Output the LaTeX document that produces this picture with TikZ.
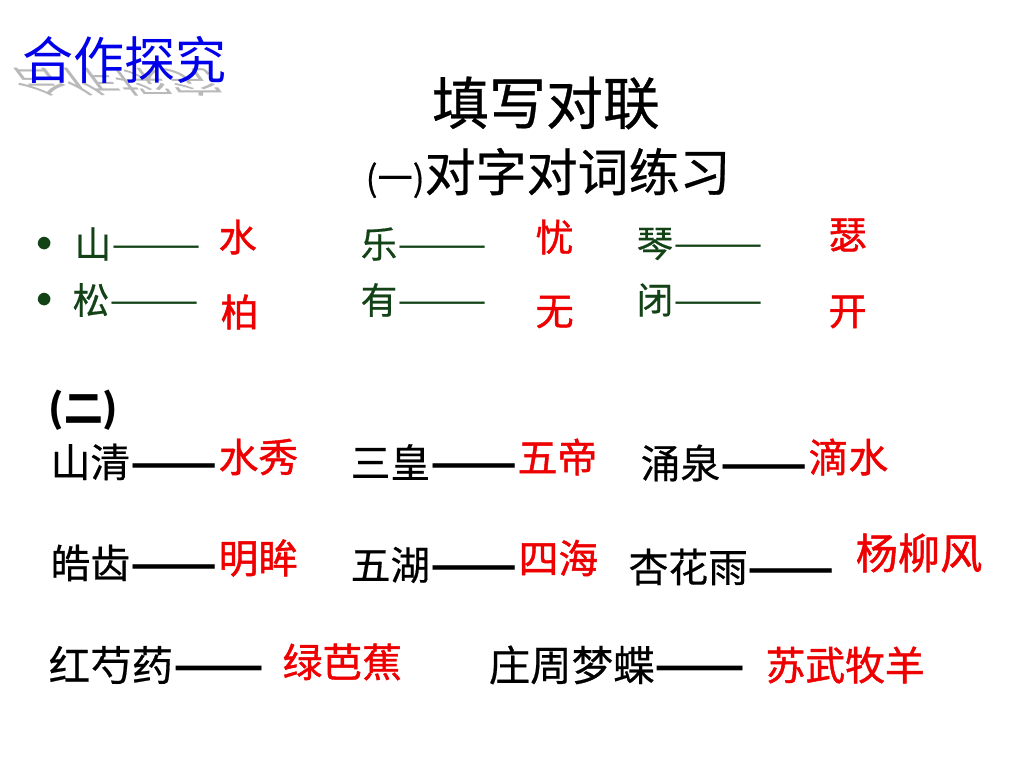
\documentclass[tikz,border=0pt]{standalone}
\usepackage{fontspec}
\newfontfamily\cjk{Noto Sans CJK SC}
\newfontfamily\cjkmid[FakeBold=0.5]{Noto Sans CJK SC}
\newfontfamily\cjkred[FakeBold=1.1]{Noto Sans CJK SC}
\newcommand\duiline[1][1]{{\cjk\scalebox{#1}[1]{——}}}
\newcommand\duilinebf[1][1]{{\cjk\bfseries\scalebox{#1}[1]{——}}}
\usetikzlibrary{positioning}
\definecolor{dgreen}{RGB}{18,66,22}
\definecolor{ansred}{RGB}{238,0,0}
\definecolor{tblue}{RGB}{0,0,235}

\begin{document}
\begin{tikzpicture}[x=0.01cm,y=-0.01cm,
  word/.style={anchor=west,inner sep=0pt,font=\cjkmid\fontsize{11.3}{13}\selectfont},
  gword/.style={word,text=dgreen,font=\cjkmid\fontsize{10.4}{12}\selectfont},
  ans/.style={word,text=ansred,font=\cjkred\fontsize{11.3}{13}\selectfont},
  gans/.style={word,text=ansred,font=\cjkred\fontsize{10.8}{12}\selectfont}]
\useasboundingbox[fill=white] (0,0) rectangle (1024,768);

%%% HEADINGS %%%
\node[word,text=gray!55,yscale=-0.6,xslant=0.45,transform shape,font=\cjk\fontsize{14.5}{16}\selectfont] (shadow) at (14,82) {合作探究};
\node[word,text=tblue,font=\cjk\fontsize{14.5}{16}\selectfont] (topic) at (22,60) {合作探究};
\node[inner sep=0pt,font=\cjkmid\fontsize{16.2}{18}\selectfont] (title) at (546,103) {填写对联};
\node[word,font=\cjkmid\fontsize{14.5}{16}\selectfont] (part1) at (365,173) {{\fontsize{10}{12}\selectfont (一)}对字对词练习};

%%% PART ONE %%%
% bullets
\node[word,text=dgreen,font=\fontsize{9}{9}\selectfont] (b1) at (36,244) {$\bullet$};
\node[word,text=dgreen,font=\fontsize{9}{9}\selectfont] (b2) at (36,300) {$\bullet$};
% given words
\node[gword] (shan) at (74,244) {山\duiline[1.47]};
\node[gword] (song) at (72,300) {松\duiline[1.47]};
\node[gword] (le) at (360,244) {乐\duiline[1.47]};
\node[gword] (you) at (360,300) {有\duiline[1.47]};
\node[gword] (qin) at (636,244) {琴\duiline[1.47]};
\node[gword] (bi) at (636,300) {闭\duiline[1.47]};
% answers
\node[gans] (shui) at (218,237) {水};
\node[gans] (bai) at (220,312) {柏};
\node[gans] (you2) at (535,237) {忧};
\node[gans] (wu) at (535,312) {无};
\node[gans] (se) at (828,235) {瑟};
\node[gans] (kai) at (828,312) {开};

%%% PART TWO %%%
\node[word,font=\cjk\bfseries\fontsize{11}{13}\selectfont] (part2) at (48,410) {(二)};
% first row
\node[word] (sq) at (50,462) {山清\duilinebf[1.28]};
\node[ans] (sx) at (218,457) {水秀};
\node[word] (sh) at (350,462) {三皇\duilinebf[1.28]};
\node[ans] (wd) at (517,457) {五帝};
\node[word] (yq) at (640,463) {涌泉\duilinebf[1.28]};
\node[ans] (ds) at (808,457) {滴水};
% second row
\node[word] (hc) at (50,563) {皓齿\duilinebf[1.28]};
\node[ans] (mm) at (218,558) {明眸};
\node[word] (wh) at (350,565) {五湖\duilinebf[1.28]};
\node[ans] (sh2) at (518,558) {四海};
\node[word] (xhy) at (628,567) {杏花雨\duilinebf[1.28]};
\node[ans,font=\cjkred\fontsize{12}{14}\selectfont] (ylf) at (855,553) {杨柳风};
% third row
\node[word,font=\cjkmid\fontsize{11.8}{13}\selectfont] (hsy) at (48,665) {红芍药\duilinebf[1.28]};
\node[ans] (lbj) at (282,662) {绿芭蕉};
\node[word,font=\cjkmid\fontsize{11.8}{13}\selectfont] (zzmd) at (488,665) {庄周梦蝶\duilinebf[1.28]};
\node[ans] (swmy) at (765,665) {苏武牧羊};
\end{tikzpicture}
\end{document}
